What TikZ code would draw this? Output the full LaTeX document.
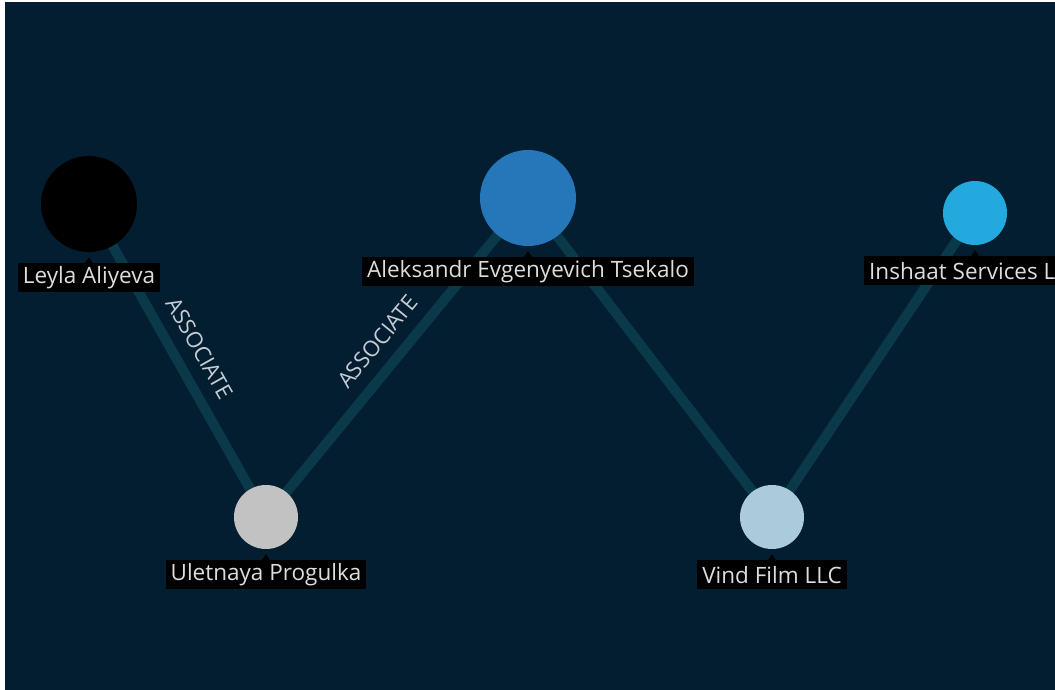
\documentclass[tikz,border=0pt]{standalone}
\usepackage{fontspec}
\setmainfont{Open Sans}
\pgfdeclarelayer{bg}
\pgfsetlayers{bg,main}
\definecolor{bgcol}{HTML}{031E31}
\definecolor{edgecol}{HTML}{0A3A4A}
\definecolor{labeltext}{HTML}{DDDDDD}
\definecolor{elabel}{HTML}{C4CCD4}
\definecolor{cAlek}{HTML}{2577BA}
\definecolor{cInsh}{HTML}{23A9DE}
\definecolor{cUlet}{HTML}{C2C2C2}
\definecolor{cVind}{HTML}{ABCBDD}
\begin{document}
\begin{tikzpicture}[x=1pt,y=-1pt,
  ent/.style={circle, inner sep=0pt, minimum size=#1},
  lbl/.style={fill=black, text=labeltext, font=\fontsize{22.5}{26}\selectfont, inner xsep=5pt, inner ysep=0pt, minimum height=29pt, anchor=north},
  edgeline/.style={draw=edgecol, line width=10pt},
  elbl/.style={text=elabel, font=\fontsize{22}{24}\selectfont, sloped, inner sep=0pt, above=12pt}
]
\useasboundingbox (0,0) rectangle (1055,690);
\clip (0,0) rectangle (1055,690);

\node[ent=96pt, fill=black] (leyla) at (89,204) {};
\node[ent=96pt, fill=cAlek] (alek) at (528,198) {};
\node[ent=64pt, fill=cInsh] (insh) at (975,213) {};
\node[ent=64pt, fill=cUlet] (ulet) at (266,517) {};
\node[ent=64pt, fill=cVind] (vind) at (772,517) {};

\begin{pgfonlayer}{bg}
\fill[white] (0,0) rectangle (1055,690);
\fill[bgcol] (5,2) rectangle (1055,690);
\draw[edgeline] (leyla.center) -- (ulet.center) node[midway, elbl] {ASSOCIATE};
\draw[edgeline] (ulet.center) -- (alek.center) node[midway, elbl] {ASSOCIATE};
\draw[edgeline] (alek.center) -- (vind.center);
\draw[edgeline] (vind.center) -- (insh.center);
\end{pgfonlayer}

\node[lbl] (leylaL) at ([yshift=-11pt]leyla.south) {Leyla Aliyeva};
\node[lbl] (alekL) at ([yshift=-11pt]alek.south) {Aleksandr Evgenyevich Tsekalo};
\node[lbl] (inshL) at ([yshift=-11pt]insh.south) {Inshaat Services LLC};
\node[lbl] (uletL) at ([yshift=-11pt]ulet.south) {Uletnaya Progulka};
\node[lbl] (vindL) at ([yshift=-11pt]vind.south) {Vind Film LLC};

\foreach \n in {leylaL,alekL,inshL,uletL,vindL}{
  \fill[black] ([xshift=-4pt]\n.north) -- ([yshift=6pt]\n.north) -- ([xshift=4pt]\n.north) -- cycle;
}
\end{tikzpicture}
\end{document}
